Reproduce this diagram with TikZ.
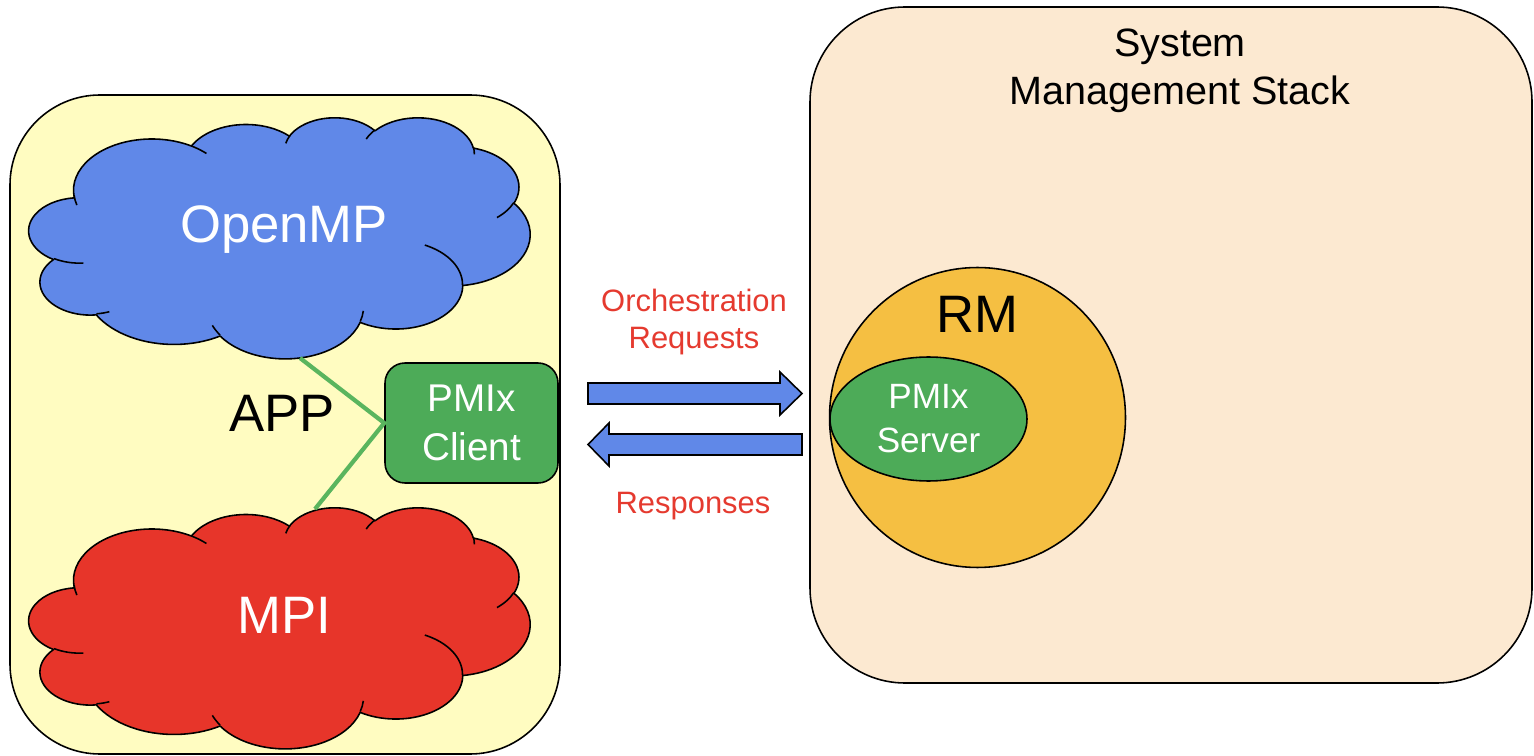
\documentclass[tikz,border=0pt]{standalone}
\usepackage{fontspec}
\setmainfont{Liberation Sans}
\usetikzlibrary{shapes.geometric}

\definecolor{appyellow}{HTML}{FFFCC1}
\definecolor{stackbeige}{HTML}{FCE9D1}
\definecolor{ompblue}{HTML}{6088E8}
\definecolor{mpired}{HTML}{E7352A}
\definecolor{pmixgreen}{HTML}{4DAB58}
\definecolor{linkgreen}{HTML}{5AB55E}
\definecolor{rmorange}{HTML}{F5BF42}
\definecolor{labelred}{HTML}{E53A2F}

\tikzset{
  outline/.style={draw=black, line width=0.9pt},
  cloudline/.style={draw=black, line width=0.9pt, line join=round},
  link/.style={draw=linkgreen, line width=2.4pt},
  bigtext/.style={font=\fontsize{30}{36}\selectfont, inner sep=0pt},
  clientbox/.style={outline, fill=pmixgreen, rounded corners=0.4cm,
    minimum width=3.46cm, minimum height=2.4cm, inner sep=0pt,
    text=white, align=center, font=\fontsize{22}{28}\selectfont},
  blockarrow/.style={outline, fill=ompblue, line join=miter},
  reqtext/.style={text=labelred, align=center, inner sep=0pt,
    font=\fontsize{17.6}{21}\selectfont},
  % one elliptical arc whose angles are visual (polar) angles
  visarc/.style={}
}

% Cloud in a 43.2 x 43.2 frame (y downwards), scaled to a box of
% #3 x #4 px with its top-left corner at (#1,#2); fill colour #5.
\newcommand\cloudshape[5]{%
  \pgfmathsetmacro\cloudxu{#3*0.02/43.2}%
  \pgfmathsetmacro\cloudyu{-#4*0.02/43.2}%
  \begin{scope}[shift={(#1,#2)}, x=\cloudxu cm, y=\cloudyu cm]
    \filldraw[cloudline, fill=#5] (3.900,14.370)
      \foreach \rw/\rh/\sa/\da in {
        6.753/9.190/-190.4875/123.7805,
        5.333/7.267/-144.1024/89.9452,
        4.365/5.945/-145.8079/99.7230,
        4.857/6.595/-130.9861/117.2417,
        5.333/7.273/-78.7089/109.0269,
        6.775/9.220/-46.2673/130.2690,
        5.785/7.867/0.6250/114.0333,
        6.752/9.215/22.4516/115.1726,
        7.720/10.543/66.2426/75.7110,
        4.360/5.918/-274.9421/146.7356,
        4.345/5.945/-246.8285/152.5189}
      { arc[x radius=\rw, y radius=\rh,
            start angle={atan2(\rw*sin(\sa),\rh*cos(\sa))},
            delta angle={mod(atan2(\rw*sin(\sa+\da),\rh*cos(\sa+\da))-atan2(\rw*sin(\sa),\rh*cos(\sa))+720,360)}] }
      -- cycle;
    \draw[cloudline]
      \foreach \px/\py/\rw/\rh/\sa/\da in {
        4.693/26.177/4.345/5.945/86.7420/26.4295,
        6.928/34.899/4.360/5.918/73.6105/11.4475,
        16.478/39.090/6.752/9.215/137.6242/14.0811,
        28.827/34.751/6.752/9.215/6.4533/15.9984,
        34.129/22.954/5.785/7.867/-70.2924/70.9174,
        41.798/15.354/5.333/7.273/30.3180/27.7515,
        38.324/5.426/4.857/6.595/-13.7443/14.8589,
        29.078/3.952/4.857/6.595/-149.1815/18.1954,
        22.141/4.720/4.365/5.945/-163.4943/17.6864,
        14.000/5.192/6.753/9.190/-66.7070/12.3194,
        4.127/15.789/6.753/9.190/158.7937/14.2382}
      { (\px,\py) arc[x radius=\rw, y radius=\rh,
            start angle={atan2(\rw*sin(\sa),\rh*cos(\sa))},
            delta angle={mod(atan2(\rw*sin(\sa+\da),\rh*cos(\sa+\da))-atan2(\rw*sin(\sa),\rh*cos(\sa))+720,360)}] };
  \end{scope}}

\begin{document}
\begin{tikzpicture}[x=0.02cm, y=-0.02cm]
  \useasboundingbox (0,0) rectangle (1534,756);

  % application side
  \draw[outline, fill=appyellow, rounded corners=1.8cm] (10,95) rectangle (560,754);
  \cloudshape{29}{117}{501}{241}{ompblue}
  \cloudshape{29}{507}{501}{241}{mpired}
  \node[bigtext, anchor=base, text=white] (omp) at (284,243) {OpenMP};
  \node[bigtext, anchor=base, text=white] (mpi) at (284,633) {MPI};
  \node[bigtext, anchor=base] (app) at (282,432) {APP};

  \node[clientbox] (client) at (471.5,423) {PMIx\\Client};
  \coordinate (ompfoot) at (300,358);
  \coordinate (mpitop) at (315,509);
  \draw[link] (ompfoot) -- (client.west) -- (mpitop);

  % system management side
  \draw[outline, fill=stackbeige, rounded corners=1.9cm] (810,7) rectangle (1532,683);
  \node[align=center, inner sep=0pt, font=\fontsize{22.5}{27.5}\selectfont]
    (sms) at (1180,70.7) {System\\Management Stack};
  \node[outline, fill=rmorange, ellipse, minimum width=5.92cm, minimum height=6.0cm,
    inner sep=0pt] (rm) at (977.5,417.5) {};
  \node[bigtext, anchor=base] (rmlabel) at (977,333) {RM};
  \node[outline, fill=pmixgreen, ellipse, minimum width=3.94cm, minimum height=2.48cm,
    inner sep=0pt, text=white, align=center, font=\fontsize{20}{25}\selectfont]
    (server) at (928.5,419) {PMIx\\Server};

  % request / response block arrows
  \draw[blockarrow] (588,383) -- (780,383) -- (780,372) -- (802,393.5)
    -- (780,415) -- (780,404) -- (588,404) -- cycle;
  \draw[blockarrow] (802,434) -- (609,434) -- (609,423) -- (588,444.5)
    -- (609,466) -- (609,455) -- (802,455) -- cycle;
  \node[reqtext] (req) at (694,321.8) {Orchestration\\Requests};
  \node[reqtext, anchor=base] (resp) at (693,513) {Responses};
\end{tikzpicture}
\end{document}
